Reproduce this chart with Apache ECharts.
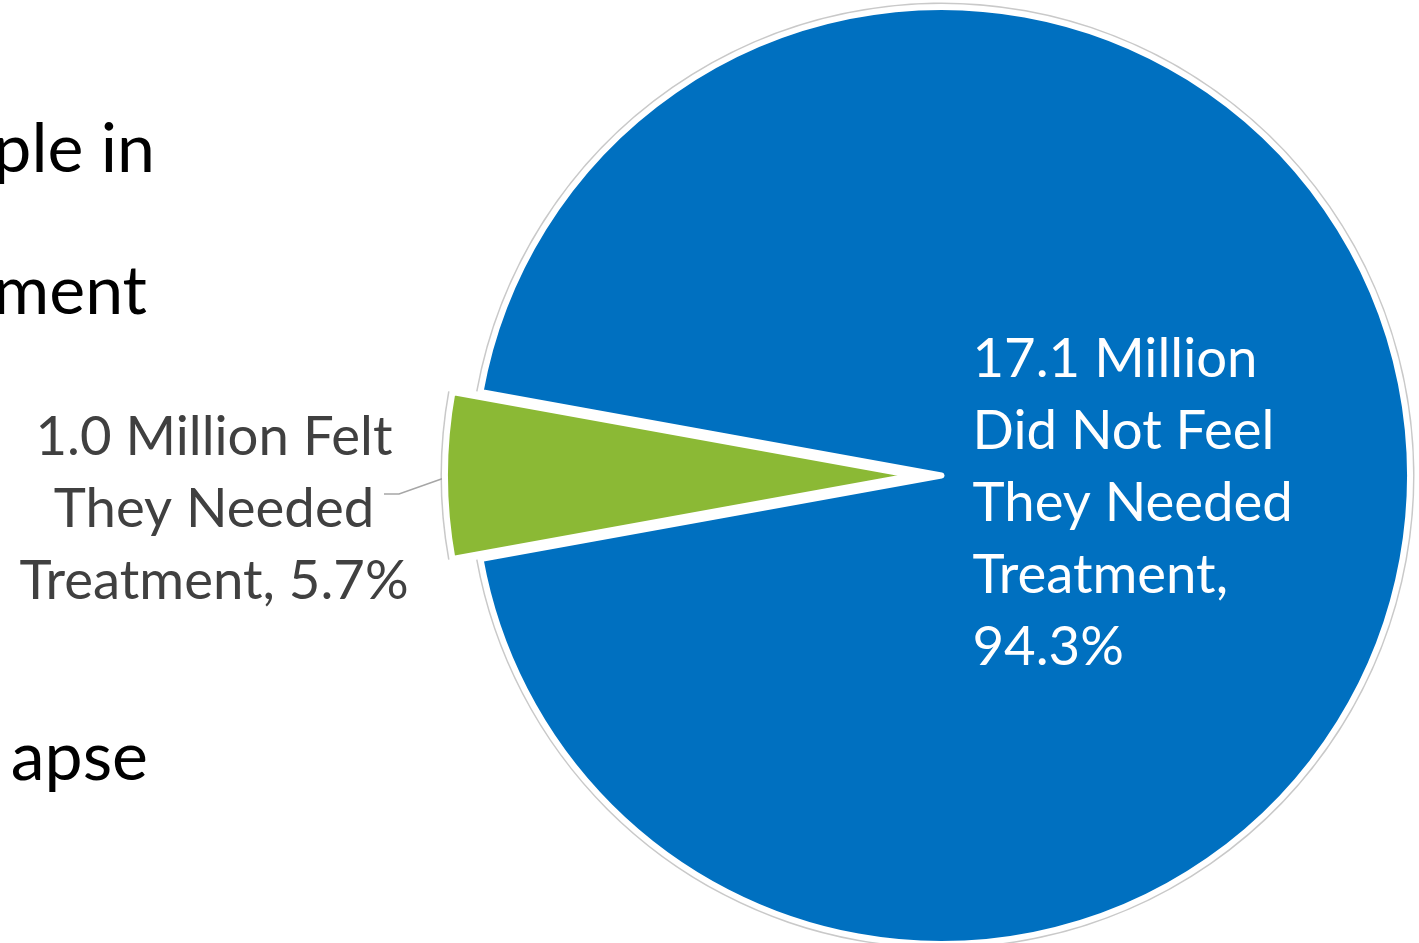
<!DOCTYPE html>
<html>
<head>
<meta charset="utf-8">
<script src="https://cdn.jsdelivr.net/npm/echarts@6/dist/echarts.min.js"></script>
<style>
  html, body { margin: 0; padding: 0; background: #ffffff; }
  #chart { width: 1419px; height: 943px; }
</style>
</head>
<body>
<div id="chart"></div>
<script>
// ---- data ----
const categories = ['Felt They Needed Treatment', 'Did Not Feel They Needed Treatment'];
const millions = [1.0, 17.1];          // people, in millions
const percents = [5.7, 94.3];          // share of total, %
const slideFragments = ['ple in', 'ment', 'apse'];

// ---- look ----
const BLUE = '#0070C0';
const GREEN = '#8BB935';
const OUTLINE = '#c9c9c9';
const LABEL_GREY = '#404040';
const FONT = 'Lato, "Open Sans", sans-serif';
const LABEL_SIZE = 54.5;

// ---- geometry ----
const CX = 941.5, CY = 475.5, R = 468.5;
const EXPLODE = 28;        // the small slice is pulled out to the left
const BORDER = 6;
const START = 180 + percents[0] / 100 * 180;   // centre the small slice on the left

const clear = { color: 'rgba(0,0,0,0)', borderWidth: 0 };
const noLabel = { label: { show: false }, labelLine: { show: false } };

function labelFor(i) {
  const m = millions[i].toFixed(1);
  const p = percents[i].toFixed(1);
  return i === 0
    ? [m + ' Million Felt', 'They Needed', 'Treatment, ' + p + '%'].join('\n')
    : [m + ' Million', 'Did Not Feel', 'They Needed', 'Treatment,', p + '%'].join('\n');
}

function pie(extra) {
  return Object.assign({
    type: 'pie',
    startAngle: START,
    clockwise: true,
    silent: true,
    animation: false,
    avoidLabelOverlap: false,
    emphasis: { disabled: true },
    label: { show: false },
    labelLine: { show: false }
  }, extra);
}

// one slice visible, the other kept as an invisible placeholder so the angles stay shared
function slices(visibleIndex, style, itemExtra) {
  return categories.map((name, i) => Object.assign(
    { name: name, value: percents[i] },
    i === visibleIndex ? Object.assign({ itemStyle: style }, itemExtra || {}) : Object.assign({ itemStyle: clear }, noLabel)
  ));
}

const GX = CX - EXPLODE;   // centre of the pulled-out slice

const option = {
  backgroundColor: '#ffffff',
  series: [
    // thin grey rims behind the white borders
    pie({ center: [CX, CY], radius: R + 4.5, z: 1, data: slices(1, { color: OUTLINE, borderWidth: 0 }) }),
    pie({ center: [GX, CY], radius: R + 4.5, z: 1, data: slices(0, { color: OUTLINE, borderWidth: 0 }) }),
    // large slice with its label inside
    pie({
      center: [CX, CY], radius: R, z: 2,
      data: slices(1, { color: BLUE, borderColor: '#ffffff', borderWidth: BORDER, borderJoin: 'round' }, {
        label: {
          show: true, position: 'inside', rotate: 0,
          formatter: p => labelFor(p.dataIndex),
          color: '#ffffff', fontFamily: FONT, fontSize: LABEL_SIZE, lineHeight: 72, align: 'left'
        }
      }),
      labelLayout: p => p.dataIndex === 1
        ? { x: CX + 31, y: CY + 27.5, align: 'left', verticalAlign: 'middle' }
        : undefined
    }),
    // small exploded slice with its label outside
    pie({
      center: [GX, CY], radius: R, z: 2,
      data: slices(0, { color: GREEN, borderColor: '#ffffff', borderWidth: BORDER, borderJoin: 'round' }, {
        label: {
          show: true, position: 'outside', rotate: 0,
          formatter: p => labelFor(p.dataIndex),
          color: LABEL_GREY, fontFamily: FONT, fontSize: LABEL_SIZE, lineHeight: 72, align: 'center'
        },
        labelLine: { show: true, length: 10, length2: 10, lineStyle: { color: '#a6a6a6', width: 1.5 } }
      }),
      labelLayout: p => {
        if (p.dataIndex !== 0) return undefined;
        const ex = GX - R + 2, ey = CY + 1.5;
        return {
          x: 214, y: 509, align: 'center', verticalAlign: 'middle',
          labelLinePoints: [[ex, ey], [ex - 48, ey + 17], [ex - 63, ey + 17]]
        };
      }
    })
  ],
  // fragments of the neighbouring slide text, cut off at the left edge
  graphic: slideFragments.map((t, i) => ({
    type: 'text',
    silent: true,
    style: {
      text: t,
      x: [155, 147, 148][i],
      y: [150, 292, 758][i],
      align: 'right',
      verticalAlign: 'middle',
      fill: '#000000',
      font: '68px ' + FONT
    }
  }))
};

const chart = echarts.init(document.getElementById('chart'), null, { renderer: 'canvas' });
chart.setOption(option);
</script>
</body>
</html>
